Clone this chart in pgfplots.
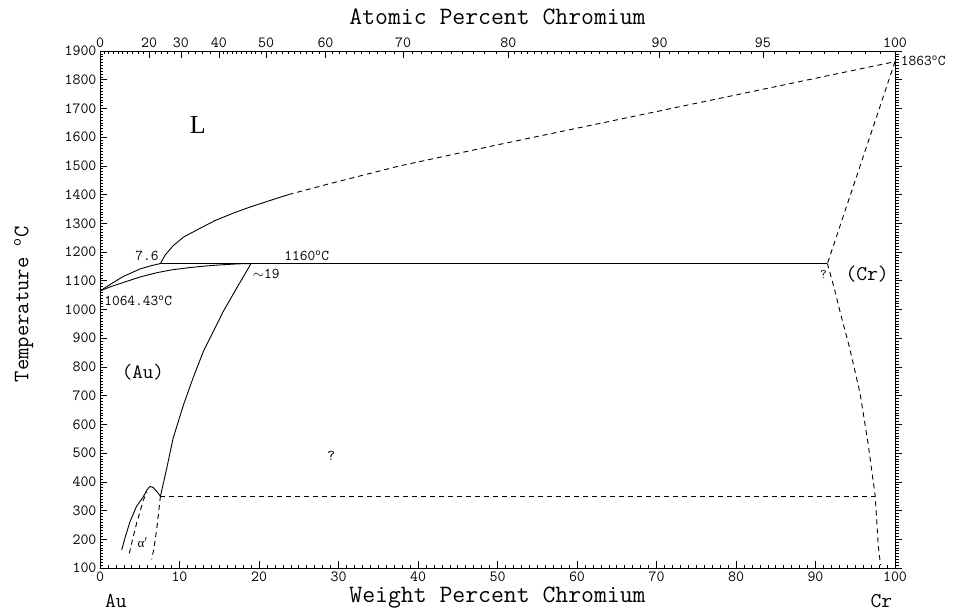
\documentclass[border=0pt]{standalone}
\usepackage{fontspec}
\setmainfont{Liberation Serif}
\usepackage{pgfplots}
\pgfplotsset{compat=1.18}

\newcommand\fs[1]{\fontsize{#1}{#1}\selectfont}
\newcommand\dC{\textsuperscript{o}C}

% minor ticks of the atomic-percent scale, placed at their weight-percent positions
% (196.967/51.996 = 3.78812)
\newcommand\atw[1]{\pgfmathparse{100*#1/(#1+3.78812*(100-#1))}}
\xdef\minorlist{0}
\foreach \a in {2,4,...,38}{\atw{\a}\xdef\minorlist{\minorlist,\pgfmathresult}}
\foreach \a in {41,42,...,79}{\atw{\a}\xdef\minorlist{\minorlist,\pgfmathresult}}
\foreach \a in {80.5,81,...,99.5}{\atw{\a}\xdef\minorlist{\minorlist,\pgfmathresult}}

\pgfplotsset{
  pd/.style={scale only axis, width=795pt, height=517pt,
    xmin=0, xmax=100, ymin=100, ymax=1900, clip=false,
    axis line style={line width=0.9pt},
    major tick length=7pt, minor tick length=3.5pt,
    tick style={black, line width=0.6pt},
    ticklabel style={font=\ttfamily\fs{15.5}},
    /pgf/number format/assume math mode=true,
    /pgf/number format/1000 sep={}},
  sl/.style={black, line width=0.9pt},
  dl/.style={black, line width=0.9pt, dash pattern=on 5pt off 4pt},
}

\begin{document}
\begin{tikzpicture}
\useasboundingbox (-100pt,-43pt) rectangle (859pt,568pt);

% top scale: atomic percent
\begin{axis}[pd, hide y axis, axis x line*=top, tick align=inside,
  xtick={0,6.191,10.164,14.965,20.885,28.365,38.117,51.360,70.378,83.377,100},
  xticklabels={0,20,30,40,50,60,70,80,90,95,100},
  minor xtick/.expanded=\minorlist,
  xlabel={Atomic Percent Chromium},
  xlabel style={font=\ttfamily\fs{25}, at={(axis description cs:0.5,1.067)}, anchor=center}]
\end{axis}

% right temperature scale
\begin{axis}[pd, hide x axis, axis y line*=right, tick align=outside,
  ytick={100,200,...,1900}, minor y tick num=9, yticklabels={}]
\end{axis}

\begin{axis}[pd, tick align=inside,
  xtick={0,10,...,100}, minor x tick num=9, xtick pos=bottom,
  ytick={100,200,...,1900}, minor y tick num=9, ytick pos=left,
  xlabel={Weight Percent Chromium},
  xlabel style={font=\ttfamily\fs{25}, at={(axis description cs:0.5,-0.058)}, anchor=center},
  ylabel={Temperature \dC},
  ylabel style={font=\ttfamily\fs{22}, at={(axis description cs:-0.096,0.51)}, anchor=center}]

% liquidus, Au side
\addplot[sl] coordinates {(0,1064.43) (1.5,1091) (2.93,1115) (5.03,1141) (6.5,1153) (7.6,1160)};
% solidus
\addplot[sl] coordinates {(0,1064.43) (1.2,1078) (2.93,1094) (5,1113) (7.13,1128) (9,1138)
  (11.3,1146) (13.5,1152) (15.5,1156) (17.5,1159) (19,1160)};
% monotectic/eutectic line
\addplot[sl] coordinates {(7.6,1160) (91.5,1160)};
% liquidus above 1160
\addplot[sl] coordinates {(7.6,1160) (8.2,1190) (9.2,1222) (10.5,1252) (12.6,1283) (14.5,1310)
  (16.8,1336) (19,1358) (21,1376) (23.7,1400)};
\addplot[dl] coordinates {(23.7,1400) (29.3,1441) (37.7,1500) (50.3,1575) (62.9,1648)
  (75.5,1721) (88.1,1794) (100,1863)};
% (Au) solvus
\addplot[sl] coordinates {(19,1160) (17.2,1075) (15.5,993) (14.05,912) (13.0,854) (11.7,761)
  (10.5,668) (9.2,552) (8.4,448) (7.6,350)};
% alpha' region
\addplot[sl] coordinates {(2.73,163) (3.2,210) (3.77,261) (4.6,315) (5.45,348) (5.9,372)
  (6.29,384) (6.7,380) (7.1,368) (7.6,350)};
\addplot[dl] coordinates {(3.69,151) (4.1,200) (4.6,255) (5.45,336) (5.9,365)};
\addplot[dl] coordinates {(7.6,350) (7.2,250) (6.8,170) (6.5,130)};
% 350 C line
\addplot[dl] coordinates {(7.6,350) (97.5,350)};
% (Cr) boundaries
\addplot[dl] coordinates {(100,1863) (91.5,1160)};
\addplot[dl] coordinates {(91.5,1160) (92.3,1080) (93.2,980) (94.25,871) (95.6,709) (96.6,536)
  (97.5,353) (97.9,176) (98.1,129) (98.2,110)};

\node[font=\fs{26}] at (axis cs:12.3,1644) {L};
\node[font=\ttfamily\fs{20.5}] at (axis cs:5.4,780) {(Au)};
\node[font=\ttfamily\fs{21}] at (axis cs:96.5,1125) {(Cr)};
\node[font=\fs{13}] at (axis cs:5.35,189) {α$'$};
\node[font=\ttfamily\fs{15}] at (axis cs:5.9,1188) {7.6};
\node[font=\ttfamily\fs{15}] at (axis cs:26.0,1186) {1160\dC};
\node[font=\ttfamily\fs{15}, anchor=west] at (axis cs:18.8,1125) {$\sim$19};
\node[font=\ttfamily\fs{15}, anchor=west] at (axis cs:0.1,1030) {1064.43\dC};
\node[font=\ttfamily\fs{15}, anchor=west] at (axis cs:100.3,1866) {1863\dC};
\node[font=\ttfamily\fs{13}] at (axis cs:91.0,1121) {?};
\node[font=\ttfamily\fs{15}] at (axis cs:29.1,490) {?};
\node[font=\ttfamily\fs{21}] at (axis cs:2.0,-16) {Au};
\node[font=\ttfamily\fs{21}] at (axis cs:98.3,-16) {Cr};
\end{axis}
\end{tikzpicture}
\end{document}
